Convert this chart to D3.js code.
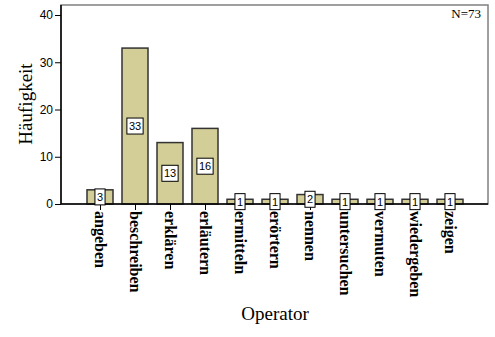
<!DOCTYPE html>
<html><head><meta charset="utf-8">
<script src="https://cdn.jsdelivr.net/npm/d3@7"></script>
<style>body{margin:0;background:#fff}svg{display:block}</style>
</head><body>
<svg id="c" width="495" height="337"></svg>
<script>
const categories = ["angeben","beschreiben","erklären","erläutern","ermitteln","erörtern","nennen","untersuchen","vermuten","wiedergeben","zeigen"];
const counts = [3,33,13,16,1,1,2,1,1,1,1];
const yTicks = [0,10,20,30,40];
const nLabel = "N=73";

(function(){
const svg = d3.select("#c");
const pLeft = 61, pRight = 488, pTop = 5, pBottom = 204;
const x = d3.scalePoint().domain(categories).range([100, 450]);
const y = d3.scaleLinear().domain([0, 40]).range([pBottom, 15]);
const barW = 26;

// frame
svg.append("rect").attr("x", pLeft).attr("y", pTop).attr("width", pRight-pLeft).attr("height", pBottom-pTop)
  .attr("fill", "#fff").attr("stroke", "#808080").attr("stroke-width", 1.5);

// bars
svg.selectAll("rect.bar").data(categories).enter().append("rect").attr("class","bar")
  .attr("x", d => x(d) - barW/2)
  .attr("y", (d,i) => y(counts[i]))
  .attr("width", barW)
  .attr("height", (d,i) => pBottom - y(counts[i]))
  .attr("fill", "#d3ce97").attr("stroke", "#333").attr("stroke-width", 1.5);

// axes
const yAxis = d3.axisLeft(y).tickValues(yTicks).tickSize(6).tickPadding(2);
const gy = svg.append("g").attr("transform", `translate(${pLeft},0)`).call(yAxis);
gy.select(".domain").remove();
gy.selectAll("text").attr("font-family","Arial, 'Liberation Sans', sans-serif").attr("font-size", 12).attr("fill","#000");
svg.append("line").attr("x1", pLeft).attr("x2", pLeft).attr("y1", pTop).attr("y2", pBottom).attr("stroke","#000").attr("stroke-width",1.5);

const xAxis = d3.axisBottom(x).tickSize(6).tickFormat("");
const gx = svg.append("g").attr("transform", `translate(0,${pBottom})`).call(xAxis);
gx.select(".domain").remove();
svg.append("line").attr("x1", pLeft).attr("x2", pRight).attr("y1", pBottom).attr("y2", pBottom).attr("stroke","#000").attr("stroke-width",1.5);

// x tick labels rotated
svg.selectAll("text.xl").data(categories).enter().append("text").attr("class","xl")
  .attr("transform", d => `translate(${x(d)},${pBottom+7}) rotate(90)`)
  .attr("dy", "0.33em")
  .attr("font-family","'Liberation Serif','Times New Roman',serif").attr("font-weight","bold").attr("font-size", 16)
  .text(d => d);

// value labels
const vl = svg.selectAll("g.vl").data(categories).enter().append("g").attr("class","vl")
  .attr("transform", (d,i) => `translate(${x(d)},${(y(counts[i]) + pBottom)/2})`);
vl.append("text").attr("text-anchor","middle").attr("dy","0.36em")
  .attr("font-family","Arial, 'Liberation Sans', sans-serif").attr("font-size", 11)
  .text((d,i) => counts[i]);
vl.each(function(){
  const g = d3.select(this);
  const bb = g.select("text").node().getBBox();
  g.insert("rect","text").attr("x", bb.x - 2).attr("y", -8).attr("width", bb.width + 4).attr("height", 16)
    .attr("fill","#fff").attr("stroke","#000").attr("stroke-width",1);
});

// titles
svg.append("text").attr("transform","translate(32,104) rotate(-90)").attr("text-anchor","middle")
  .attr("font-family","'Liberation Serif','Times New Roman',serif").attr("font-size", 19).text("Häufigkeit");
svg.append("text").attr("x", 275).attr("y", 320).attr("text-anchor","middle")
  .attr("font-family","'Liberation Serif','Times New Roman',serif").attr("font-size", 19).text("Operator");
svg.append("text").attr("x", 481).attr("y", 18).attr("text-anchor","end")
  .attr("font-family","'Liberation Serif','Times New Roman',serif").attr("font-size", 13).text(nLabel);
})();
</script>
</body></html>
